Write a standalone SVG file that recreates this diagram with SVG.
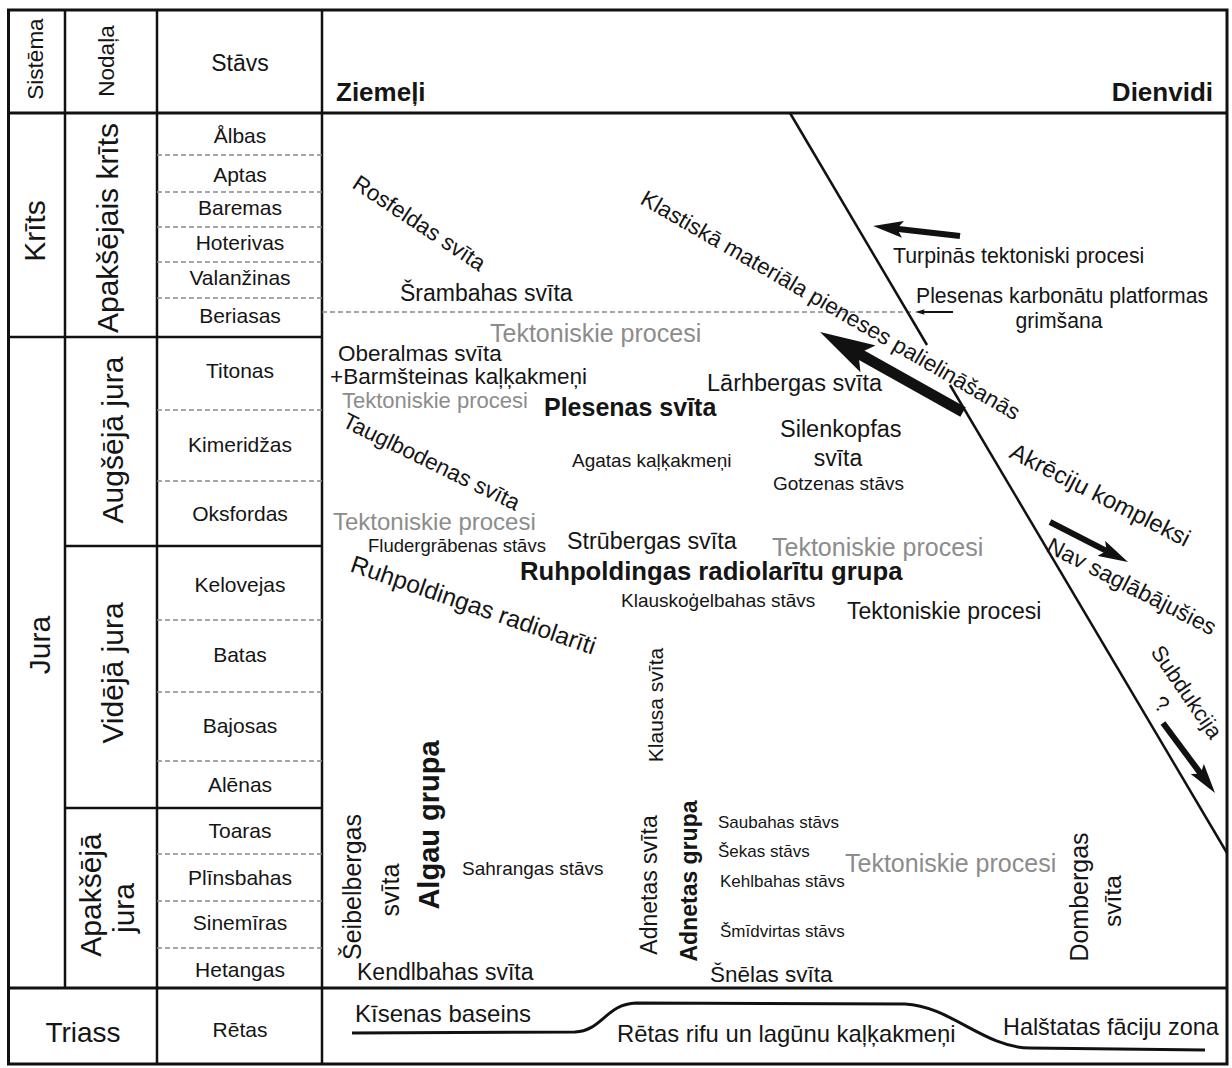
<svg xmlns="http://www.w3.org/2000/svg" width="1232" height="1068" viewBox="0 0 1232 1068">
<style>
text{font-family:"Liberation Sans",Arial,sans-serif;fill:#151515}
.g{fill:#8c8c8c}
.b{font-weight:bold}
.m{text-anchor:middle}
.e{text-anchor:end}
.st{font-size:21px;text-anchor:middle}
.fr{stroke:#111;stroke-width:3;fill:none}
.ln{stroke:#111;stroke-width:2.5;fill:none}
.ds{stroke:#8a8a8a;stroke-width:1.3;stroke-dasharray:5 3;fill:none}
.ar{stroke:#111;fill:none;marker-end:url(#ah)}
</style>
<defs>
<marker id="ah" viewBox="0 0 10 5.6" markerWidth="5" markerHeight="2.8" refX="3" refY="2.8" orient="auto" markerUnits="strokeWidth">
<path d="M0,0 L10,2.8 L0,5.6 L2,2.8 z" fill="#111"/>
</marker>
</defs>
<rect width="1232" height="1068" fill="#fff"/>

<g id="table">
<rect class="fr" x="8.5" y="10" width="1218.5" height="1054"/>
<line class="fr" x1="8" y1="113" x2="1227" y2="113"/>
<line class="fr" x1="8" y1="988" x2="1227" y2="988"/>
<line class="ln" x1="65" y1="10" x2="65" y2="988"/>
<line class="ln" x1="157" y1="10" x2="157" y2="1064"/>
<line class="ln" x1="322" y1="10" x2="322" y2="1064"/>
<line class="ln" x1="8" y1="337" x2="322" y2="337"/>
<line class="ln" x1="65" y1="546" x2="322" y2="546"/>
<line class="ln" x1="65" y1="808" x2="322" y2="808"/>
<path class="ds" d="M157,155H322M157,192H322M157,227H322M157,262H322M157,298H322M157,410H322M157,481H322M157,620H322M157,692H322M157,761H322M157,854H322M157,901H322M157,948H322"/>
<path class="ds" d="M322,312H912"/>
</g>

<g id="header">
<text font-size="22.5" class="m" transform="translate(43,59) rotate(-90)">Sistēma</text>
<text font-size="22.5" class="m" transform="translate(114,61) rotate(-90)">Nodaļa</text>
<text font-size="23" class="m" x="240" y="71">Stāvs</text>
<text font-size="26" class="b" x="336" y="101">Ziemeļi</text>
<text font-size="26" class="b e" x="1213" y="101">Dienvidi</text>
</g>

<g id="systems">
<text font-size="30" class="m" transform="translate(45,231) rotate(-90)">Krīts</text>
<text font-size="30" class="m" transform="translate(50,645) rotate(-90)">Jura</text>
<text font-size="28" class="m" x="83" y="1042">Triass</text>
</g>

<g id="series">
<text font-size="30" class="m" transform="translate(118,228) rotate(-90)">Apakšējais krīts</text>
<text font-size="30" class="m" transform="translate(123,440) rotate(-90)">Augšējā jura</text>
<text font-size="30" class="m" transform="translate(123,673) rotate(-90)">Vidējā jura</text>
<text font-size="30" class="m" transform="translate(101,895) rotate(-90)">Apakšējā</text>
<text font-size="30" class="m" transform="translate(134,908) rotate(-90)">jura</text>
</g>

<g id="stages">
<text class="st" x="240" y="143">Ålbas</text>
<text class="st" x="240" y="182">Aptas</text>
<text class="st" x="240" y="215">Baremas</text>
<text class="st" x="240" y="250">Hoterivas</text>
<text class="st" x="240" y="285">Valanžinas</text>
<text class="st" x="240" y="323">Beriasas</text>
<text class="st" x="240" y="378">Titonas</text>
<text class="st" x="240" y="452">Kimeridžas</text>
<text class="st" x="240" y="521">Oksfordas</text>
<text class="st" x="240" y="592">Kelovejas</text>
<text class="st" x="240" y="662">Batas</text>
<text class="st" x="240" y="733">Bajosas</text>
<text class="st" x="240" y="792">Alēnas</text>
<text class="st" x="240" y="838">Toaras</text>
<text class="st" x="240" y="885">Plīnsbahas</text>
<text class="st" x="240" y="930">Sinemīras</text>
<text class="st" x="240" y="977">Hetangas</text>
<text class="st" x="240" y="1037">Rētas</text>
</g>

<g id="connectors">
<line class="ln" x1="790" y1="113" x2="927" y2="345"/>
<line class="ln" x1="950" y1="385" x2="1227" y2="853"/>
<line class="ar" stroke-width="6" x1="960" y1="236" x2="894" y2="228.4"/>
<line class="ar" stroke-width="2" x1="953" y1="312" x2="922" y2="312"/>
<line class="ar" stroke-width="11" x1="963" y1="412" x2="853.6" y2="350.8"/>
<line class="ar" stroke-width="6" x1="1050" y1="522" x2="1109.3" y2="552.4"/>
<line class="ar" stroke-width="6" x1="1163" y1="723" x2="1202.5" y2="776.1"/>
<path class="fr" d="M352,1033 L575,1032 C602,1031 606,1004 636,1003 L905,1004 C950,1006 985,1048 1030,1048 L1205,1050"/>
</g>

<g id="cretaceous">
<text font-size="22.5" transform="translate(351,187) rotate(33.5)">Rosfeldas svīta</text>
<text font-size="22.5" transform="translate(639,203) rotate(30.1)">Klastiskā materiāla pieneses palielināšanās</text>
<text font-size="23" x="400" y="301">Šrambahas svīta</text>
<text font-size="21.3" x="893" y="263">Turpinās tektoniski procesi</text>
<text font-size="21.2" x="916" y="303">Plesenas karbonātu platformas</text>
<text font-size="21.2" class="m" x="1059" y="328">grimšana</text>
</g>

<g id="upper-jurassic">
<text font-size="25" class="g" x="490" y="342">Tektoniskie procesi</text>
<text font-size="22.5" x="338" y="361">Oberalmas svīta</text>
<text font-size="22.5" x="330" y="384">+Barmšteinas kaļķakmeņi</text>
<text font-size="22" class="g" x="342" y="408">Tektoniskie procesi</text>
<text font-size="25" class="b" x="544" y="416">Plesenas svīta</text>
<text font-size="23.5" x="707" y="391">Lārhbergas svīta</text>
<text font-size="23.5" x="780" y="437">Silenkopfas</text>
<text font-size="23" class="m" x="838" y="466">svīta</text>
<text font-size="19" x="773" y="490">Gotzenas stāvs</text>
<text font-size="19" x="572" y="467">Agatas kaļķakmeņi</text>
<text font-size="22.5" transform="translate(341,426) rotate(26)">Tauglbodenas svīta</text>
<text font-size="24" class="g" x="333" y="530">Tektoniskie procesi</text>
<text font-size="18.5" x="368" y="552">Fludergrābenas stāvs</text>
<text font-size="23.3" x="567" y="549">Strūbergas svīta</text>
<text font-size="25" class="g" x="772" y="556">Tektoniskie procesi</text>
<text font-size="25.7" class="b" x="520" y="580">Ruhpoldingas radiolarītu grupa</text>
<text font-size="19" x="621" y="607">Klauskoģelbahas stāvs</text>
<text font-size="23" x="847" y="619">Tektoniskie procesi</text>
<text font-size="24.5" transform="translate(349,571) rotate(19)">Ruhpoldingas radiolarīti</text>
</g>

<g id="south">
<text font-size="24" transform="translate(1008,457) rotate(27)">Akrēciju kompleksi</text>
<text font-size="23" transform="translate(1045,551) rotate(27)">Nav saglābājušies</text>
<text font-size="22" transform="translate(1150,652) rotate(55.5)">Subdukcija</text>
<text font-size="22" transform="translate(1152.5,707) rotate(35)">?</text>
</g>

<g id="lower-jurassic">
<text font-size="21" class="m" transform="translate(663,705) rotate(-90)">Klausa svīta</text>
<text font-size="29" class="b m" transform="translate(439,825) rotate(-90)">Algau grupa</text>
<text font-size="25" class="m" transform="translate(361,887) rotate(-90)">Šeibelbergas</text>
<text font-size="25" class="m" transform="translate(399,890) rotate(-90)">svīta</text>
<text font-size="19" x="462" y="875">Sahrangas stāvs</text>
<text font-size="23" x="357" y="980">Kendlbahas svīta</text>
<text font-size="23" class="m" transform="translate(657,885) rotate(-90)">Adnetas svīta</text>
<text font-size="23" class="b m" transform="translate(697,881) rotate(-90)">Adnetas grupa</text>
<text font-size="17" x="718" y="828">Saubahas stāvs</text>
<text font-size="17" x="718" y="857">Šekas stāvs</text>
<text font-size="17" x="720" y="887">Kehlbahas stāvs</text>
<text font-size="17" x="720" y="937">Šmīdvirtas stāvs</text>
<text font-size="22.5" x="710" y="982">Šnēlas svīta</text>
<text font-size="25" class="g" x="845" y="872">Tektoniskie procesi</text>
<text font-size="25" class="m" transform="translate(1088,897) rotate(-90)">Dombergas</text>
<text font-size="24.5" class="m" transform="translate(1121,901) rotate(-90)">svīta</text>
</g>

<g id="triassic">
<text font-size="24" x="355" y="1022">Kīsenas baseins</text>
<text font-size="23.8" x="617" y="1042">Rētas rifu un lagūnu kaļķakmeņi</text>
<text font-size="23.4" x="1003" y="1035">Halštatas fāciju zona</text>
</g>
</svg>
